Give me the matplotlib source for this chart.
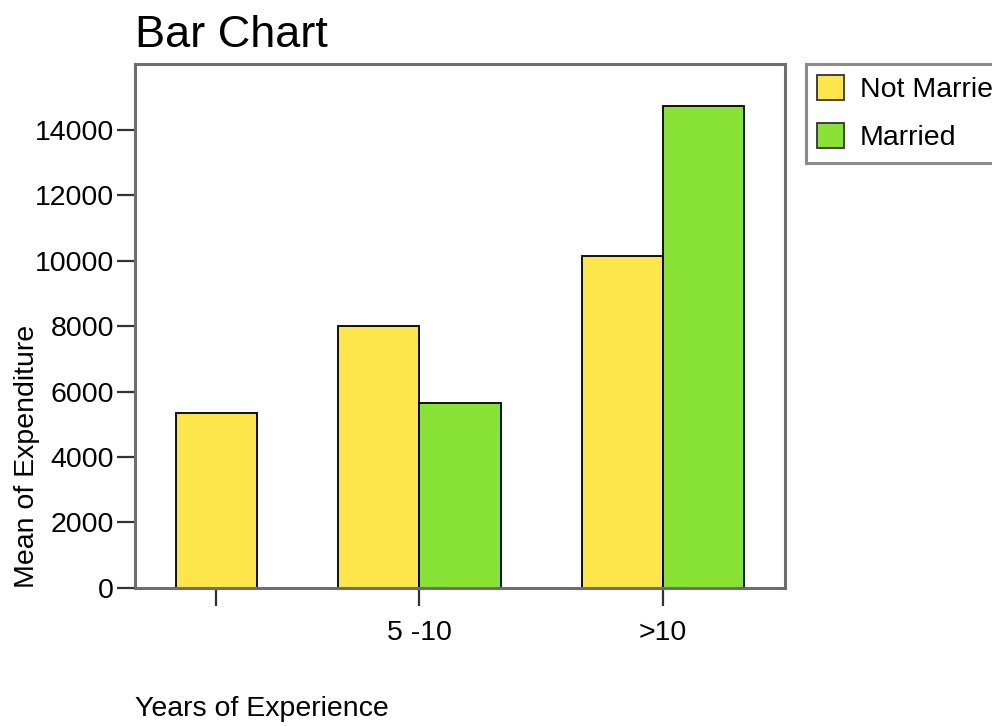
import numpy as np
import matplotlib.pyplot as plt

# Mean expenditure by years of experience and marital status
groups = ['', '5 -10', '>10']
not_married = [5340, 8000, 10150]
married = [np.nan, 5640, 14730]
series_names = ['Not Married', 'Married']
colors = ['#FCE64B', '#88E236']

plt.rcParams['font.family'] = ['Liberation Sans', 'DejaVu Sans']

fig = plt.figure(figsize=(9.92, 7.26), dpi=100)
ax = fig.add_axes([0.1361, 0.1901, 0.6552, 0.7217])

# bars per group (groups with a missing value shrink, like SPSS clustering)
series = [not_married, married]
counts = [sum(~np.isnan(s[i]) for s in series) for i in range(len(groups))]
width = 1.0
gap = 1.0
left = gap / 2
centers = []
for i, n in enumerate(counts):
    start = left
    k = 0
    for j, s in enumerate(series):
        if np.isnan(s[i]):
            continue
        ax.bar(start + k * width, s[i], width=width, align='edge',
               color=colors[j], edgecolor='black', linewidth=1.3, zorder=2)
        k += 1
    centers.append(left + n * width / 2)
    left += n * width + gap

ax.set_xlim(0, left - gap / 2)
ax.set_ylim(0, 16000)
ax.set_xticks(centers)
ax.set_xticklabels(groups)
ax.set_yticks(np.arange(0, 16000, 2000))

for sp in ax.spines.values():
    sp.set_color('#6e6e6e')
    sp.set_linewidth(2.2)
ax.tick_params(axis='both', length=13, width=1.6, color='#333333',
               labelsize=20.5, pad=2)
ax.tick_params(axis='x', pad=10)

ax.set_title('Bar Chart', loc='left', fontsize=32.5, pad=12)
ax.set_ylabel('Mean of Expenditure', loc='bottom', fontsize=20.5, labelpad=-4)
ax.set_xlabel('Years of Experience', loc='left', fontsize=20.5, labelpad=36)

handles = [plt.Rectangle((0, 0), 1, 1, facecolor=c, edgecolor='#333333',
                         linewidth=1.3) for c in colors]
leg = fig.legend(handles, series_names, loc='upper left',
                 bbox_to_anchor=(806 / 992, 1 - 64 / 726),
                 bbox_transform=fig.transFigure, fontsize=20.5,
                 frameon=True, fancybox=False, borderaxespad=0,
                 handlelength=0.95, handleheight=0.95, handletextpad=0.55,
                 labelspacing=0.7, borderpad=0.4)
leg.get_frame().set_edgecolor('#6e6e6e')
leg.get_frame().set_linewidth(2.2)

fig.savefig('out.png', dpi=100)
